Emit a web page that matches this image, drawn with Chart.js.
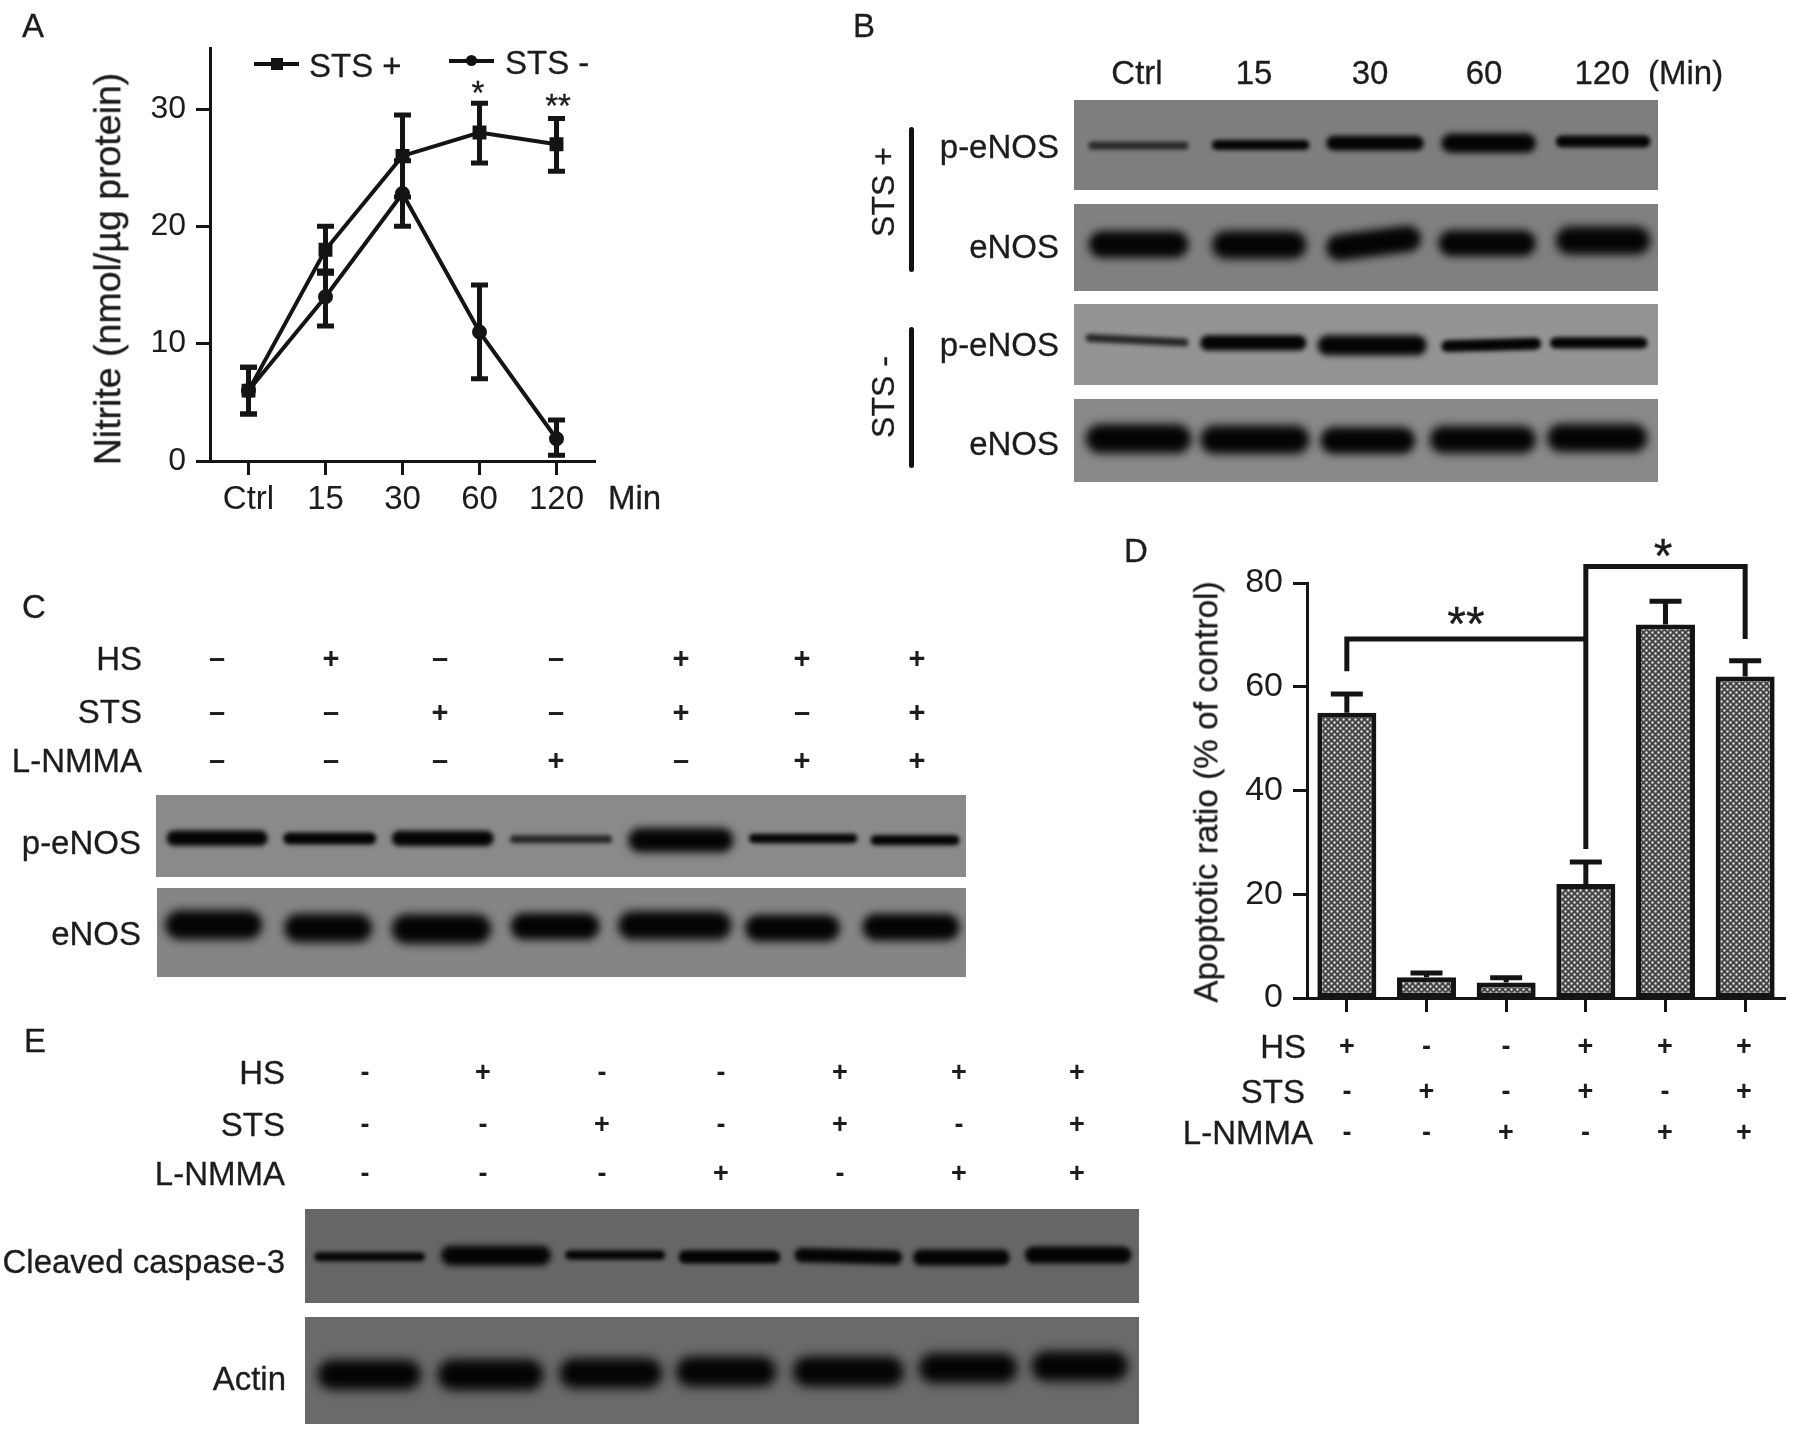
<!DOCTYPE html>
<html>
<head>
<meta charset="utf-8">
<title>Nitrite, eNOS and apoptosis panels</title>
<script src="https://cdn.jsdelivr.net/npm/chart.js@4"></script>
<style>
html, body { margin: 0; background: #fff; }
#page { position: relative; width: 1800px; height: 1445px; overflow: hidden; filter: blur(0.6px); }
#page canvas { position: absolute; }
.t { position: absolute; white-space: nowrap; color: #1c1c1c; font-family: "Liberation Sans", Arial, sans-serif; line-height: 1; -webkit-text-stroke: 0.3px #1c1c1c; }
.s { font-weight: bold; -webkit-text-stroke: 0; }
.k { position: absolute; background: #111; }
</style>
</head>
<body>
<div id="page"></div>
<script>
// panel A values
var timeLabels = ['Ctrl', '15', '30', '60', '120'];
var stsPlus = [6, 18, 26, 28, 27];
var stsPlusLow = [4, 16, 22.5, 25.4, 24.7];
var stsPlusHigh = [8, 20, 29.5, 30.5, 29.2];
var stsMinus = [6, 14, 22.8, 11, 1.9];
var stsMinusLow = [4, 11.5, 20, 7, 0.5];
var stsMinusHigh = [8, 16.2, 25.6, 15, 3.5];
var nitriteTicks = [0, 10, 20, 30];

// panel D values
var groups = ['1', '2', '3', '4', '5', '6'];
var apoptosis = [55, 4, 3, 22, 72, 62];
var apoptosisHigh = [58.6, 4.8, 3.9, 26.2, 76.5, 65];
var apoptosisTicks = [0, 20, 40, 60, 80];
var hsD = ['+', '-', '-', '+', '+', '+'];
var stsD = ['-', '+', '-', '+', '-', '+'];
var nmmaD = ['-', '-', '+', '-', '+', '+'];
var bracketLow = [[0, 63], [0, 69.2], [3, 69.2]];
var bracketHigh = [[3, 28.7], [3, 83.2], [5, 83.2], [5, 69.2]];

// panels C and E treatment rows
var hsLanes = ['-', '+', '-', '-', '+', '+', '+'];
var stsLanes = ['-', '-', '+', '-', '+', '-', '+'];
var nmmaLanes = ['-', '-', '-', '+', '-', '+', '+'];

// blot bands: start %, end %, height % left, height % right, thickness %
var bPhospho1 = [[2.5, 19.6, 50.7, 50.7, 5.5], [23.6, 40.3, 50, 50, 8], [43.2, 59.9, 48, 48, 13], [62.9, 79.1, 48, 48, 18], [82.5, 98.7, 46, 46, 10]];
var bTotal1 = [[2.5, 19.6, 46.4, 46.4, 30.6], [23.6, 39.8, 47, 47, 32], [43.2, 59.4, 50, 40, 30], [62.4, 79.1, 45.2, 45.2, 30], [82.5, 98.7, 42, 42, 32]];
var bPhospho2 = [[2, 19.6, 42, 47.5, 6], [21.6, 39.8, 48, 48, 15], [41.7, 60.4, 51, 51, 21], [62.9, 80, 52, 49, 11], [81.5, 98.2, 48, 48, 10]];
var bTotal2 = [[2, 20.1, 48, 48, 35], [21.6, 40.3, 49, 49, 34], [42.2, 58.4, 50, 50, 32], [60.9, 79.1, 49, 49, 33], [81, 98.2, 47, 47, 34]];
var cPhospho = [[1.3, 13.8, 52.6, 52.6, 15], [15.7, 27.2, 53, 53, 11], [29.1, 41.7, 53, 53, 15], [43.7, 56.3, 54, 54, 6], [58.3, 71.3, 55, 55, 26], [73.2, 86.6, 53, 53, 8], [88.2, 99.2, 55, 55, 9]];
var cTotal = [[1, 13, 41.5, 41.5, 33], [15.7, 26.6, 45, 45, 32], [29, 41.3, 46, 46, 33], [43.7, 54.7, 43, 43, 30], [57, 71, 42, 42, 32], [72.7, 84.4, 45, 45, 30], [87.2, 99.2, 44, 44, 30]];
var eCaspase = [[1.1, 14.4, 50.9, 50.9, 6.4], [16.3, 29.5, 49.5, 49.5, 17.8], [31.2, 43.2, 49, 49, 7], [44.8, 57, 51, 51, 11], [58.7, 71.6, 49, 51.6, 12], [72.9, 84.5, 51.6, 51.6, 14], [86.3, 99.1, 49, 49, 15]];
var eActin = [[1.5, 13.9, 54, 54, 28], [15.9, 28.6, 54, 54, 29], [30.5, 42.8, 52.5, 52.5, 28], [44.5, 56.5, 51, 51, 28], [58.5, 71.8, 51, 51, 28], [73.6, 85.4, 47.8, 47.8, 28], [87.1, 98.7, 46, 46, 28]];

var page = document.getElementById('page');
var ink = '#141414';
var fontName = '"Liberation Sans", Arial, sans-serif';
Chart.defaults.font.family = fontName;
Chart.defaults.color = '#1c1c1c';
Chart.defaults.animation = false;

// anchor: l, r or c. y is always the middle of the text
function txt(str, x, y, anchor, size, rotate) {
    var el = document.createElement('div');
    el.className = 't';
    el.textContent = str;
    el.style.left = x + 'px';
    el.style.top = y + 'px';
    el.style.fontSize = size + 'px';
    var tx = anchor == 'r' ? '-100%' : (anchor == 'c' ? '-50%' : '0');
    el.style.transform = 'translate(' + tx + ',-50%)' + (rotate ? ' rotate(' + rotate + 'deg)' : '');
    page.appendChild(el);
    return el;
}

function box(x, y, w, h, radius) {
    var el = document.createElement('div');
    el.className = 'k';
    el.style.left = x + 'px';
    el.style.top = y + 'px';
    el.style.width = w + 'px';
    el.style.height = h + 'px';
    if (radius) el.style.borderRadius = radius + 'px';
    page.appendChild(el);
}

function addCanvas(left, top, width, height) {
    var c = document.createElement('canvas');
    c.width = width;
    c.height = height;
    c.style.left = left + 'px';
    c.style.top = top + 'px';
    c.style.width = width + 'px';
    c.style.height = height + 'px';
    page.appendChild(c);
    return c;
}

function errorBars(lows, highs, capHalf, lineWidth) {
    return {
        id: 'errorBars',
        afterDatasetsDraw: function(chart) {
            var ctx = chart.ctx;
            ctx.save();
            ctx.strokeStyle = ink;
            ctx.lineWidth = lineWidth;
            lows.forEach(function(low, d) {
                var meta = chart.getDatasetMeta(d);
                low.forEach(function(v, i) {
                    var x = meta.data[i].x;
                    var y1 = chart.scales.y.getPixelForValue(v);
                    var y2 = chart.scales.y.getPixelForValue(highs[d][i]);
                    ctx.beginPath();
                    ctx.moveTo(x, y1);
                    ctx.lineTo(x, y2);
                    ctx.moveTo(x - capHalf, y2);
                    ctx.lineTo(x + capHalf, y2);
                    if (v != chart.data.datasets[d].data[i]) {
                        ctx.moveTo(x - capHalf, y1);
                        ctx.lineTo(x + capHalf, y1);
                    }
                    ctx.stroke();
                });
            });
            ctx.restore();
        }
    };
}

var brackets = {
    id: 'brackets',
    afterDatasetsDraw: function(chart) {
        var ctx = chart.ctx;
        ctx.save();
        ctx.strokeStyle = ink;
        ctx.lineWidth = 5;
        [bracketLow, bracketHigh].forEach(function(path) {
            ctx.beginPath();
            path.forEach(function(p, i) {
                var x = chart.scales.x.getPixelForValue(p[0]);
                var y = chart.scales.y.getPixelForValue(p[1]);
                if (i == 0) ctx.moveTo(x, y); else ctx.lineTo(x, y);
            });
            ctx.stroke();
        });
        ctx.restore();
    }
};

function axisOptions(sizeX, sizeY, tickList, yMax, leftWidth, bottomHeight, showX) {
    return {
        x: {
            offset: true,
            border: { color: ink, width: 3 },
            grid: { drawOnChartArea: false, offset: false, tickLength: 14, tickWidth: 3, tickColor: ink },
            ticks: { display: showX, font: { size: sizeX }, padding: 5, maxRotation: 0, autoSkip: false },
            afterFit: function(s) { s.height = bottomHeight; }
        },
        y: {
            min: 0,
            max: yMax,
            border: { color: ink, width: 3 },
            grid: { drawOnChartArea: false, tickLength: 14, tickWidth: 3, tickColor: ink },
            ticks: { font: { size: sizeY }, padding: 10, includeBounds: false, stepSize: tickList[1] - tickList[0] },
            afterFit: function(s) { s.width = leftWidth; }
        }
    };
}

// panel A
new Chart(addCanvas(0, 0, 660, 530), {
    type: 'line',
    data: {
        labels: timeLabels,
        datasets: [
            { label: 'STS +', data: stsPlus, borderColor: ink, backgroundColor: ink, borderWidth: 4, tension: 0, pointStyle: 'rect', pointRadius: 7 },
            { label: 'STS -', data: stsMinus, borderColor: ink, backgroundColor: ink, borderWidth: 4, tension: 0, pointStyle: 'circle', pointRadius: 5.5 }
        ]
    },
    options: {
        responsive: false,
        layout: { padding: { top: 48, right: 65, left: 0, bottom: 0 } },
        plugins: { legend: { display: false }, tooltip: { enabled: false } },
        scales: axisOptions(33, 32, nitriteTicks, 35.2, 210, 69, true)
    },
    plugins: [errorBars([stsPlusLow, stsMinusLow], [stsPlusHigh, stsMinusHigh], 8.5, 5)]
});

box(254, 62, 45, 4);
box(271, 58, 12, 12);
txt('STS +', 309, 65, 'l', 33);
box(449, 59, 45, 4);
box(466, 55, 11, 11, 6);
txt('STS -', 505, 62, 'l', 33);
txt('*', 478, 92, 'c', 33);
txt('**', 558, 105, 'c', 33);
txt('Min', 608, 497, 'l', 33);
txt('Nitrite (nmol/\u00b5g protein)', 108, 269, 'c', 37.5, -90);
txt('A', 22, 25, 'l', 33);

// panel D
var tile = document.createElement('canvas');
tile.width = 6;
tile.height = 6;
var tileCtx = tile.getContext('2d');
tileCtx.fillStyle = '#444444';
tileCtx.fillRect(0, 0, 6, 6);
tileCtx.fillStyle = '#e0e0e0';
tileCtx.beginPath();
tileCtx.arc(1.5, 1.5, 1.25, 0, Math.PI * 2);
tileCtx.arc(4.5, 4.5, 1.25, 0, Math.PI * 2);
tileCtx.fill();

var barCanvas = addCanvas(1120, 520, 680, 550);
var barPattern = barCanvas.getContext('2d').createPattern(tile, 'repeat');
new Chart(barCanvas, {
    type: 'bar',
    data: {
        labels: groups,
        datasets: [{
            data: apoptosis,
            backgroundColor: barPattern,
            borderColor: ink,
            borderWidth: 5,
            borderSkipped: false,
            barPercentage: 0.74,
            categoryPercentage: 1
        }]
    },
    options: {
        responsive: false,
        layout: { padding: { top: 63, right: 15, left: 0, bottom: 0 } },
        plugins: { legend: { display: false }, tooltip: { enabled: false } },
        scales: axisOptions(32, 34, apoptosisTicks, 80, 187, 72, false)
    },
    plugins: [errorBars([apoptosis], [apoptosisHigh], 16, 5), brackets]
});

txt('D', 1124, 550, 'l', 33);
txt('Apoptotic ratio (% of control)', 1206, 792, 'c', 33.4, -90);
txt('**', 1466, 624, 'c', 48);
txt('*', 1663, 556, 'c', 48);
txt('HS', 1306, 1046, 'r', 33);
txt('STS', 1305, 1091, 'r', 33);
txt('L-NMMA', 1313, 1132, 'r', 33);

var dLanes = [1347, 1426.5, 1506, 1585.5, 1665, 1744];
function signRow(signs, lanes, y, minus, size) {
    signs.forEach(function(s, i) {
        txt(s == '+' ? '+' : minus, lanes[i], y, 'c', size).classList.add('s');
    });
}
signRow(hsD, dLanes, 1046, '-', 27);
signRow(stsD, dLanes, 1091, '-', 27);
signRow(nmmaD, dLanes, 1132, '-', 27);

// blots are drawn as thick blurred lines on a 0-100 scale
function bandWidth(band, height) {
    var thick = band[4] / 100 * height;
    return thick < 22 ? thick + 3 : thick;
}

function blurPlugin(bands, height) {
    return {
        id: 'bandBlur',
        beforeDatasetDraw: function(chart, args) {
            var thick = bandWidth(bands[args.index], height);
            chart.ctx.save();
            chart.ctx.filter = 'blur(' + Math.max(2, thick * 0.17).toFixed(1) + 'px)';
        },
        afterDatasetDraw: function(chart) {
            chart.ctx.restore();
        }
    };
}

function blot(left, top, width, height, gray, bands) {
    var sets = bands.map(function(b) {
        var thick = bandWidth(b, height);
        // round caps stick out, so pull the ends in by the cap radius
        var inset = thick * 0.5 / width * 100;
        return {
            data: [{ x: b[0] + inset, y: b[2] }, { x: b[1] - inset, y: b[3] }],
            showLine: true,
            pointRadius: 0,
            borderWidth: thick,
            borderCapStyle: 'round',
            borderColor: thick < 9 ? '#262626' : '#040404'
        };
    });
    new Chart(addCanvas(left, top, width, height), {
        type: 'scatter',
        data: { datasets: sets },
        options: {
            responsive: false,
            plugins: { legend: { display: false }, tooltip: { enabled: false } },
            scales: {
                x: { type: 'linear', min: 0, max: 100, display: false },
                y: { type: 'linear', min: 0, max: 100, reverse: true, display: false }
            }
        },
        plugins: [{
            id: 'membrane',
            beforeDraw: function(chart) {
                chart.ctx.fillStyle = gray;
                chart.ctx.fillRect(0, 0, width, height);
            }
        }, blurPlugin(bands, height)]
    });
}

// panel B
blot(1074, 100, 584, 90, '#7e7e7e', bPhospho1);
blot(1074, 204, 584, 87, '#808080', bTotal1);
blot(1074, 304, 584, 81, '#949494', bPhospho2);
blot(1074, 399, 584, 83, '#898989', bTotal2);
txt('B', 853, 25, 'l', 33);
txt('Ctrl', 1137, 72, 'c', 33);
txt('15', 1254, 72, 'c', 33);
txt('30', 1370, 72, 'c', 33);
txt('60', 1484, 72, 'c', 33);
txt('120', 1602, 72, 'c', 33);
txt('(Min)', 1648, 72, 'l', 33);
txt('p-eNOS', 1059, 146, 'r', 33);
txt('eNOS', 1059, 246, 'r', 33);
txt('p-eNOS', 1059, 344, 'r', 33);
txt('eNOS', 1059, 443, 'r', 33);
box(909, 127, 5, 145, 3);
box(909, 327, 5, 141, 3);
txt('STS +', 883, 192, 'c', 32, -90);
txt('STS -', 883, 397, 'c', 32, -90);

// panel C
var cLanes = [217, 331, 440, 556, 681, 802, 917];
blot(156, 795, 810, 82, '#8a8a8a', cPhospho);
blot(157, 888, 809, 89, '#858585', cTotal);
txt('C', 22, 606, 'l', 33);
txt('HS', 142, 658, 'r', 33);
txt('STS', 142, 711, 'r', 33);
txt('L-NMMA', 142, 760, 'r', 33);
txt('p-eNOS', 141, 842, 'r', 33);
txt('eNOS', 141, 933, 'r', 33);
signRow(hsLanes, cLanes, 658, '\u2013', 29);
signRow(stsLanes, cLanes, 712, '\u2013', 29);
signRow(nmmaLanes, cLanes, 760, '\u2013', 29);

// panel E
var eLanes = [365, 483, 602, 721, 840, 959, 1077];
blot(305, 1209, 834, 94, '#666666', eCaspase);
blot(305, 1317, 834, 107, '#6a6a6a', eActin);
txt('E', 24, 1040, 'l', 33);
txt('HS', 285, 1072, 'r', 33);
txt('STS', 285, 1124, 'r', 33);
txt('L-NMMA', 285, 1173, 'r', 33);
txt('Cleaved caspase-3', 285, 1261, 'r', 33);
txt('Actin', 286, 1378, 'r', 33);
signRow(hsLanes, eLanes, 1072, '-', 27);
signRow(stsLanes, eLanes, 1124, '-', 27);
signRow(nmmaLanes, eLanes, 1173, '-', 27);
</script>
</body>
</html>
